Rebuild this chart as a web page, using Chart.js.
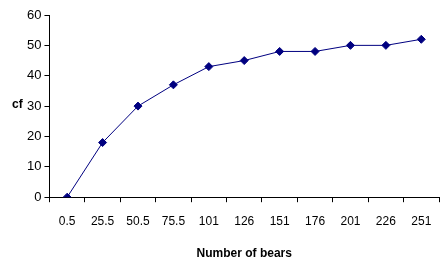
<!DOCTYPE html>
<html>
<head>
<meta charset="utf-8">
<script src="https://cdn.jsdelivr.net/npm/chart.js@4.4.0/dist/chart.umd.min.js"></script>
<style>
  html, body { margin: 0; padding: 0; background: #fff; }
  canvas { display: block; }
</style>
</head>
<body>
<canvas id="cfChart" width="444" height="261"></canvas>
<script>
// cumulative frequency of bears
var bearCounts = ["0.5", "25.5", "50.5", "75.5", "101", "126", "151", "176", "201", "226", "251"];
var cfValues = [0, 18, 30, 37, 43, 45, 48, 48, 50, 50, 52];
var yTicks = [0, 10, 20, 30, 40, 50, 60];

var navy = "#000080";
var fontFam = "'Liberation Sans', Arial, sans-serif";

// horizontal y axis title, drawn beside the tick labels
var yTitlePlugin = {
	id: 'yTitle',
	afterDraw: function(chart) {
		var ctx = chart.ctx;
		var y = chart.scales.y.getPixelForValue(30);
		ctx.save();
		ctx.fillStyle = '#000';
		ctx.font = "bold 12px " + fontFam;
		ctx.textAlign = 'left';
		ctx.textBaseline = 'middle';
		ctx.fillText("cf", 12, y - 1);
		ctx.restore();
	}
};

new Chart(document.getElementById('cfChart'), {
	type: "line",
	data: {
		labels: bearCounts,
		datasets: [{
			data: cfValues,
			borderColor: navy,
			backgroundColor: navy,
			borderWidth: 1,
			pointStyle: 'rectRot',
			pointRadius: 4,
			pointHoverRadius: 4,
			tension: 0,
			fill: false
		}]
	},
	options: {
		responsive: false,
		animation: false,
		layout: { padding: { top: 15, right: 1, bottom: 0, left: 24 } },
		plugins: {
			legend: { display: false },
			tooltip: { enabled: false }
		},
		scales: {
			x: {
				type: 'category',
				offset: true,
				grid: { offset: true, drawOnChartArea: false, tickLength: 5, color: '#000' },
				border: { color: '#000', width: 1 },
				ticks: { color: '#000', font: { family: fontFam, size: 12 }, padding: 12, maxRotation: 0, autoSkip: false },
				title: { display: true, text: "Number of bears", color: '#000', font: { family: fontFam, size: 12, weight: 'bold' }, padding: { top: 6, bottom: 0 } }
			},
			y: {
				min: 0,
				max: 60,
				afterBuildTicks: function(axis) {
					axis.ticks = yTicks.map(function(v) { return { value: v }; });
				},
				grid: { drawOnChartArea: false, tickLength: 5, color: '#000' },
				border: { color: '#000', width: 1 },
				ticks: { color: '#000', font: { family: fontFam, size: 13 }, padding: 3 }
			}
		}
	},
	plugins: [yTitlePlugin]
});
</script>
</body>
</html>
